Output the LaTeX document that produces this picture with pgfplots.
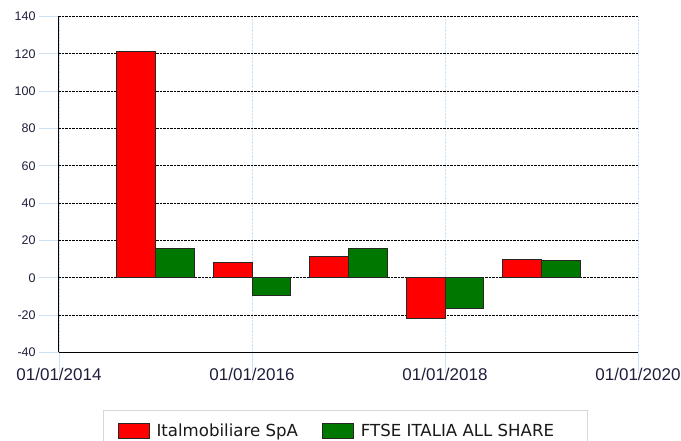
\documentclass[border=0pt]{standalone}
\usepackage{pgfplots}
\pgfplotsset{compat=1.18}
\usepackage{fontspec}
\setmainfont{Liberation Sans}
\newfontfamily\legfont{DejaVu Sans}
\definecolor{tickcol}{RGB}{30,30,60}
\definecolor{barred}{RGB}{255,0,0}
\definecolor{bargreen}{RGB}{0,120,0}
\definecolor{tickblue}{RGB}{205,225,245}
\definecolor{legborder}{RGB}{215,215,215}
\begin{document}
\begin{tikzpicture}
\begin{axis}[
  at={(0,0)}, anchor=south west,
  scale only axis, width=579pt, height=336pt,
  xmin=2014, xmax=2020, ymin=-40, ymax=140,
  axis x line*=bottom, axis y line*=left,
  axis line style={black, line width=1pt, -},
  xtick={2014,2016,2018,2020},
  xticklabels={01/01/2014,01/01/2016,01/01/2018,01/01/2020},
  ytick={-40,-20,...,140},
  tick align=outside, major tick length=20pt,
  tick style={tickblue, line width=0.8pt},
  xmajorgrids, ymajorgrids,
  y grid style={black, densely dotted, line width=0.7pt},
  x grid style={tickblue, densely dotted, line width=0.6pt},
  /pgf/number format/assume math mode=true,
  yticklabel style={font=\fontsize{12.5}{14}\selectfont, text=tickcol},
  xticklabel style={font=\fontsize{17}{19}\selectfont, text=tickcol, yshift=8pt},
  ybar, bar width=0.4,
  legend columns=2,
  legend image code/.code={\draw[#1] (0pt,-7.5pt) rectangle (31pt,7.5pt);},
  legend style={at={(axis description cs:0.076,-0.17)}, anchor=north west,
    draw=legborder, line width=1pt, inner xsep=14pt, inner ysep=12pt,
    font=\legfont\fontsize{16.6}{18}\selectfont, text=black!90,
    /tikz/every even column/.append style={column sep=22pt},
    /tikz/every odd column/.append style={column sep=5pt}},
]
\addplot[fill=barred, draw=black!85, line width=1pt, bar shift=-0.2]
  coordinates {(2015,121.5) (2016,8.0) (2017,11.6) (2018,-21.9) (2019,9.9)};
\addplot[fill=bargreen, draw=black!85, line width=1pt, bar shift=0.2]
  coordinates {(2015,15.7) (2016,-9.3) (2017,15.7) (2018,-16.4) (2019,9.1)};
\legend{Italmobiliare SpA, FTSE ITALIA ALL SHARE\hspace*{17pt}}
\end{axis}
\pgfresetboundingbox
\useasboundingbox (-59pt,-88.5pt) rectangle (622pt,352.5pt);
\end{tikzpicture}
\end{document}
